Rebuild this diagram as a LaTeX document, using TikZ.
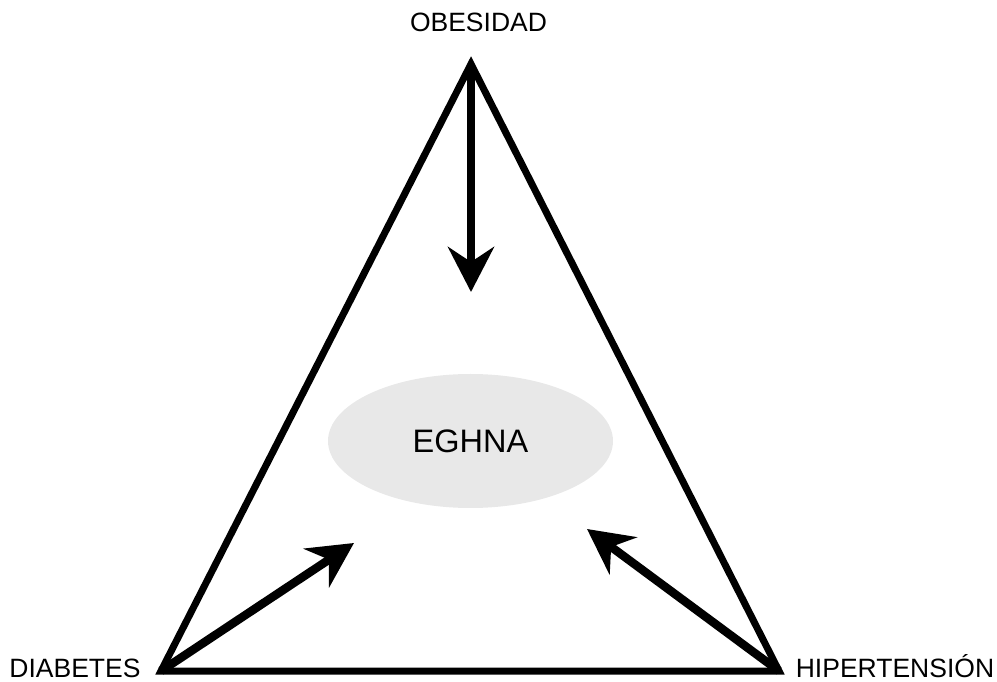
\documentclass[tikz,border=0pt]{standalone}
\usepackage{fontspec}
\setmainfont{Liberation Sans}
\usetikzlibrary{arrows.meta,shapes.geometric}
\definecolor{hubgray}{RGB}{232,232,232}
\tikzset{
  frame/.style={line width=7pt, line join=miter, miter limit=10},
  push/.style={line width=8.5pt, -{Stealth[length=45pt,width=46pt,inset=15pt]}},
  corner/.style={font=\fontsize{26.5}{30}\selectfont, anchor=base, inner sep=0pt},
  hub/.style={ellipse, fill=hubgray, minimum width=285pt, minimum height=134pt,
    inner sep=0pt, font=\fontsize{32.5}{36}\selectfont}
}
\begin{document}
\begin{tikzpicture}[x=1pt,y=1pt]
  \useasboundingbox (0,0) rectangle (997,681);
  % triangle corners
  \coordinate (top) at (471,617);
  \coordinate (left) at (161,10);
  \coordinate (right) at (779,10);
  % arrow tips
  \coordinate (tipT) at (471,389);
  \coordinate (tipL) at (354,138);
  \coordinate (tipR) at (587,152);

  \node[hub] (eghna) at (470.5,240) {EGHNA};

  \draw[frame] (top) -- (left) -- (right) -- cycle;

  \draw[push] (top) -- (tipT);
  \draw[push] (left) -- (tipL);
  \draw[push] (right) -- (tipR);

  \node[corner] (obesidad) at (478.5,649) {OBESIDAD};
  \node[corner] (diabetes) at (75,4) {DIABETES};
  \node[corner] (hipertension) at (895,4) {HIPERTENSIÓN};
\end{tikzpicture}
\end{document}
